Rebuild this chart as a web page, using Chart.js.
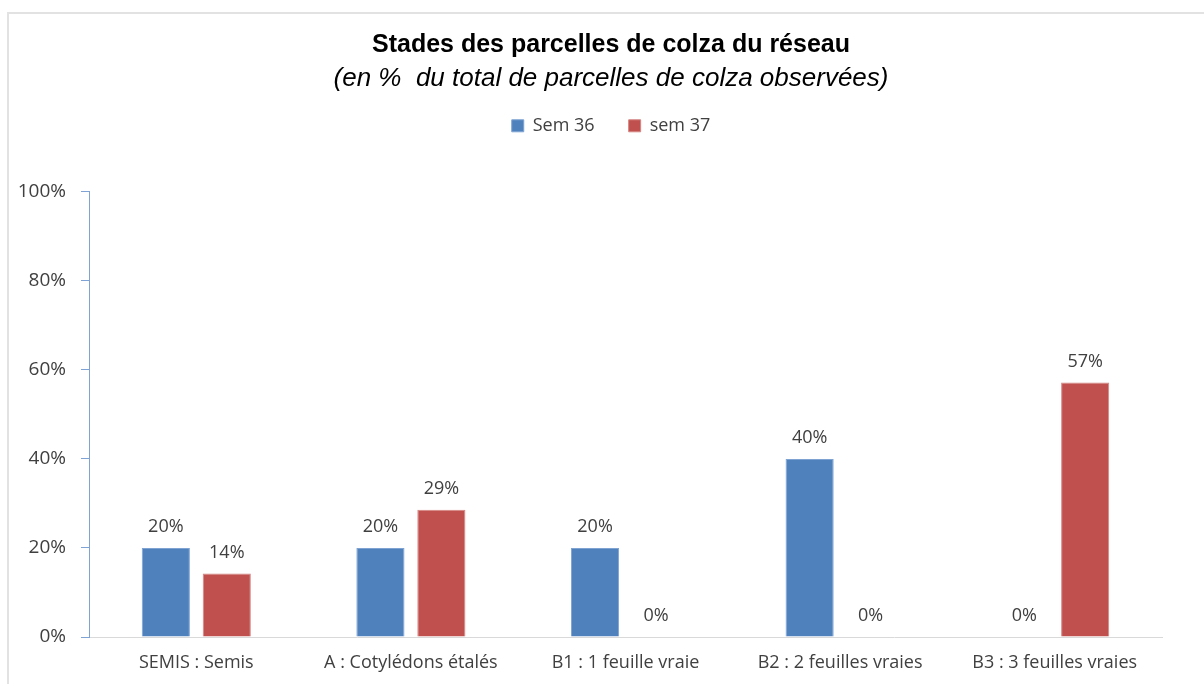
<!DOCTYPE html>
<html>
<head>
<meta charset="utf-8">
<script src="https://cdn.jsdelivr.net/npm/chart.js@4.4.1/dist/chart.umd.min.js"></script>
<style>
html,body{margin:0;padding:0;background:#fff;}
#wrap{position:relative;width:1204px;height:684px;}
</style>
</head>
<body>
<div id="wrap"><canvas id="c" width="1204" height="684"></canvas></div>
<script>
const categories = ["SEMIS : Semis", "A : Cotylédons étalés", "B1 : 1 feuille vraie", "B2 : 2 feuilles vraies", "B3 : 3 feuilles vraies"];
const seriesNames = ["Sem 36", "sem 37"];
const sem36 = [20, 20, 20, 40, 0];
const sem37 = [14.29, 28.57, 0, 0, 57.14];
const yTicks = [0, 20, 40, 60, 80, 100];

const frame = {
  id: 'frame',
  beforeDraw(chart) {
    const ctx = chart.ctx;
    ctx.save();
    ctx.fillStyle = '#fff';
    ctx.fillRect(0, 0, chart.width, chart.height);
    ctx.strokeStyle = '#e2e2e2';
    ctx.lineWidth = 2;
    ctx.strokeRect(8, 13, 1400, 1000);
    ctx.restore();
  }
};

// empty layout boxes: one between legend and plot area, one on the right
const spacer = {
  id: 'spacer',
  beforeInit(chart) {
    Chart.layouts.addBox(chart, {
      position: 'top', weight: 100, fullSize: true, options: {},
      isHorizontal() { return true; },
      update(maxWidth) { this.width = maxWidth; this.height = 47; },
      draw() {}
    });
    Chart.layouts.addBox(chart, {
      position: 'right', weight: 100, fullSize: false, options: {},
      isHorizontal() { return false; },
      update(maxWidth, maxHeight) { this.width = 42; this.height = maxHeight; },
      draw() {}
    });
  }
};

const valueLabels = {
  id: 'valueLabels',
  afterDatasetsDraw(chart) {
    const ctx = chart.ctx;
    const yScale = chart.scales.y;
    ctx.save();
    ctx.font = '18px "Open Sans"';
    ctx.fillStyle = '#404040';
    ctx.textAlign = 'center';
    ctx.textBaseline = 'middle';
    chart.data.datasets.forEach((ds, i) => {
      const meta = chart.getDatasetMeta(i);
      meta.data.forEach((bar, j) => {
        const v = ds.data[j];
        const top = Math.min(bar.y, yScale.getPixelForValue(0));
        ctx.fillText(Math.round(v) + '%', bar.x, top - 21);
      });
    });
    ctx.restore();
  }
};

new Chart(document.getElementById('c'), {
  type: 'bar',
  data: {
    labels: categories,
    datasets: [
      { label: seriesNames[0], data: sem36, backgroundColor: '#4f81bd', borderColor: '#7ea3d3', borderWidth: 1,
        categoryPercentage: 0.568, barPercentage: 0.79 },
      { label: seriesNames[1], data: sem37, backgroundColor: '#c0504d', borderColor: '#d58583', borderWidth: 1,
        categoryPercentage: 0.568, barPercentage: 0.79 }
    ]
  },
  options: {
    responsive: false,
    animation: false,
    layout: { padding: { left: 18, right: 0, top: 0, bottom: 0 } },
    plugins: {
      title: {
        display: true,
        text: 'Stades des parcelles de colza du réseau',
        color: '#000',
        font: { family: 'Liberation Sans', size: 25, weight: 'bold', lineHeight: 1.2 },
        padding: { top: 30, bottom: 0 }
      },
      subtitle: {
        display: true,
        text: '(en %  du total de parcelles de colza observées)',
        color: '#000',
        font: { family: 'Liberation Sans', size: 26, style: 'italic', lineHeight: 0.3 },
        padding: { top: 15, bottom: 0 }
      },
      legend: {
        display: true,
        position: 'top',
        labels: {
          boxWidth: 12, boxHeight: 12,
          color: '#404040',
          font: { family: 'Open Sans', size: 18 },
          padding: 34
        }
      },
      tooltip: { enabled: false }
    },
    scales: {
      x: {
        grid: { display: false, drawTicks: false },
        border: { display: true, color: '#d9d9d9', width: 1 },
        ticks: { color: '#404040', font: { family: 'Open Sans', size: 18 }, padding: 15, maxRotation: 0 },
        afterFit(s) { s.height = 47; }
      },
      y: {
        min: 0, max: 100,
        afterBuildTicks(s) { s.ticks = yTicks.map(v => ({ value: v })); },
        grid: { drawOnChartArea: false, color: '#7fa3d4', tickLength: 8 },
        border: { display: true, color: '#7fa3d4', width: 1 },
        ticks: { color: '#404040', font: { family: 'Open Sans', size: 19 }, padding: 15, callback: v => v + '%' },
        afterFit(s) { s.width = 71; }
      }
    }
  },
  plugins: [frame, spacer, valueLabels]
});
</script>
</body>
</html>
